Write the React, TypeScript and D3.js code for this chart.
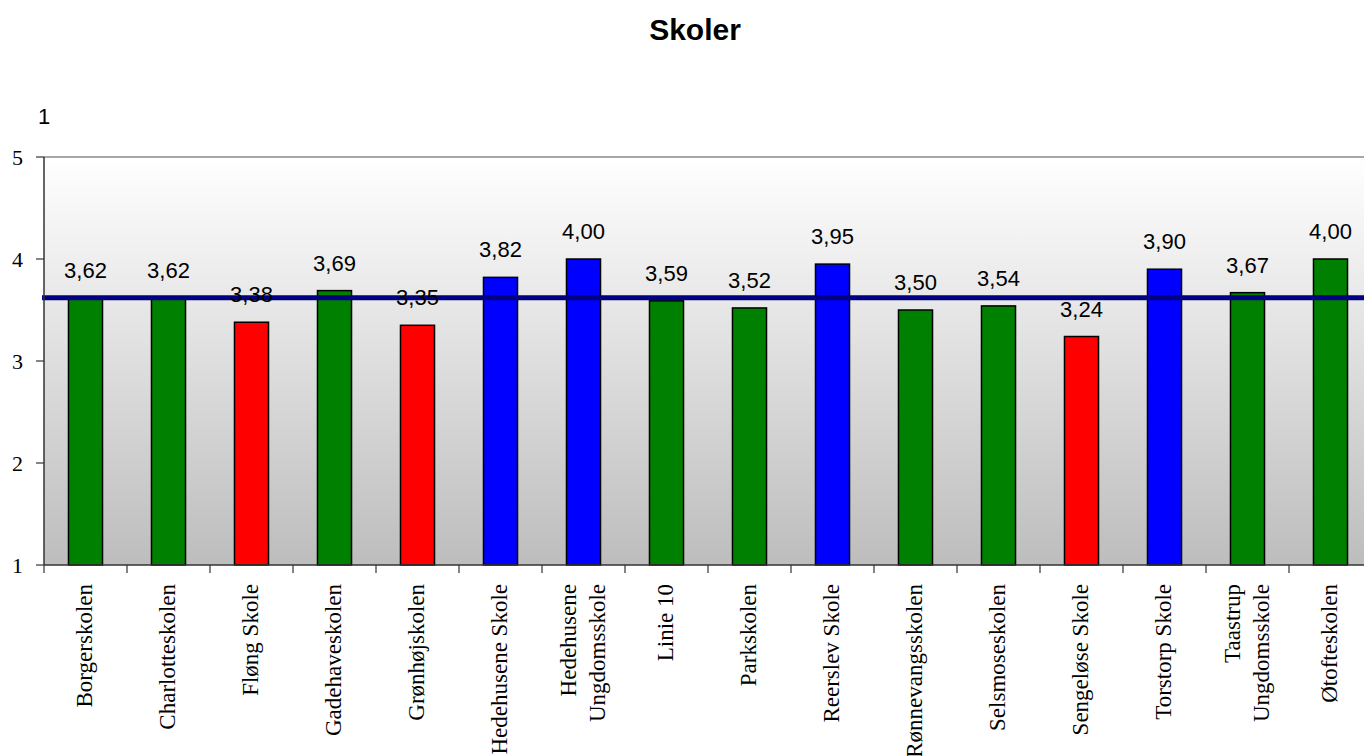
import * as d3 from "d3";

const schools = [
  ["Borgerskolen"],
  ["Charlotteskolen"],
  ["Fløng Skole"],
  ["Gadehaveskolen"],
  ["Grønhøjskolen"],
  ["Hedehusene Skole"],
  ["Hedehusene", "Ungdomsskole"],
  ["Linie 10"],
  ["Parkskolen"],
  ["Reerslev Skole"],
  ["Rønnevangsskolen"],
  ["Selsmoseskolen"],
  ["Sengeløse Skole"],
  ["Torstorp Skole"],
  ["Taastrup", "Ungdomsskole"],
  ["Øtofteskolen"],
];
const scores = [3.62, 3.62, 3.38, 3.69, 3.35, 3.82, 4.0, 3.59, 3.52, 3.95, 3.5, 3.54, 3.24, 3.9, 3.67, 4.0];
const groups = ["g", "g", "r", "g", "r", "b", "b", "g", "g", "b", "g", "g", "r", "b", "g", "g"];
const average = 3.62;
const yTicks = [1, 2, 3, 4, 5];

const groupColor: Record<string, string> = { g: "#008000", r: "#ff0000", b: "#0000ff" };

const width = 1364;
const height = 756;
const left = 44;
const top = 157;
const bottom = 565;

export default function App() {
  const keys = schools.map((s) => s.join(" "));
  const x = d3.scaleBand<string>().domain(keys).range([left, left + 83 * 16]).padding(0);
  const y = d3.scaleLinear().domain([1, 5]).range([bottom, top]);
  const step = x.bandwidth();
  const barW = step * 0.41;
  const fmt = (v: number) => v.toFixed(2).replace(".", ",");
  const sans = "'Liberation Sans', Arial, sans-serif";
  const serif = "'Liberation Serif', 'Times New Roman', serif";

  return (
    <svg
      width={width}
      height={height}
      style={{ position: "absolute", left: 0, top: 0, display: "block", background: "#fff" }}
    >
      <defs>
        <linearGradient id="bg" x1="0" y1="0" x2="0" y2="1">
          <stop offset="0%" stopColor="#ffffff" />
          <stop offset="100%" stopColor="#bdbdbd" />
        </linearGradient>
      </defs>

      <text x={695} y={40} textAnchor="middle" fontFamily={sans} fontWeight="bold" fontSize={30}>
        Skoler
      </text>
      <text x={38} y={124} fontFamily={sans} fontSize={22}>
        1
      </text>

      <rect x={left} y={top} width={width - left} height={bottom - top} fill="url(#bg)" />
      <line x1={left} x2={width} y1={top} y2={top} stroke="#8a8a8a" strokeWidth={1.5} />

      {keys.map((k, i) => (
        <rect
          key={k}
          x={x(k)! + step / 2 - barW / 2}
          y={y(scores[i])}
          width={barW}
          height={y(1) - y(scores[i])}
          fill={groupColor[groups[i]]}
          stroke="#000"
          strokeWidth={1.5}
        />
      ))}

      <line
        x1={left - 2}
        x2={width}
        y1={y(average)}
        y2={y(average)}
        stroke="#000080"
        strokeWidth={5}
      />

      {keys.map((k, i) => (
        <text
          key={k}
          x={x(k)! + step / 2}
          y={y(scores[i]) - 20}
          textAnchor="middle"
          fontFamily={sans}
          fontSize={22}
        >
          {fmt(scores[i])}
        </text>
      ))}

      <line x1={left} x2={left} y1={top} y2={bottom} stroke="#333" strokeWidth={1.5} />
      <line x1={left} x2={width} y1={bottom} y2={bottom} stroke="#333" strokeWidth={1.5} />
      {yTicks.map((t) => (
        <g key={t}>
          <line x1={left - 8} x2={left} y1={y(t)} y2={y(t)} stroke="#333" strokeWidth={1.2} />
          <text x={23} y={y(t)} dy="0.35em" textAnchor="end" fontFamily={serif} fontSize={22}>
            {t}
          </text>
        </g>
      ))}
      {keys.map((k, i) => (
        <line
          key={k}
          x1={x(k)!}
          x2={x(k)!}
          y1={bottom}
          y2={bottom + 8}
          stroke="#333"
          strokeWidth={1.2}
        />
      ))}

      {schools.map((lines, i) => {
        const cx = x(keys[i])! + step / 2;
        const lh = 29;
        return (
          <text
            key={keys[i]}
            transform={`translate(${cx},584) rotate(-90)`}
            fontFamily={serif}
            fontSize={23}
            textAnchor="end"
          >
            {lines.map((ln, j) => (
              <tspan key={j} x={0} y={(j - (lines.length - 1) / 2) * lh} dy="0.3em">
                {ln}
              </tspan>
            ))}
          </text>
        );
      })}
    </svg>
  );
}
